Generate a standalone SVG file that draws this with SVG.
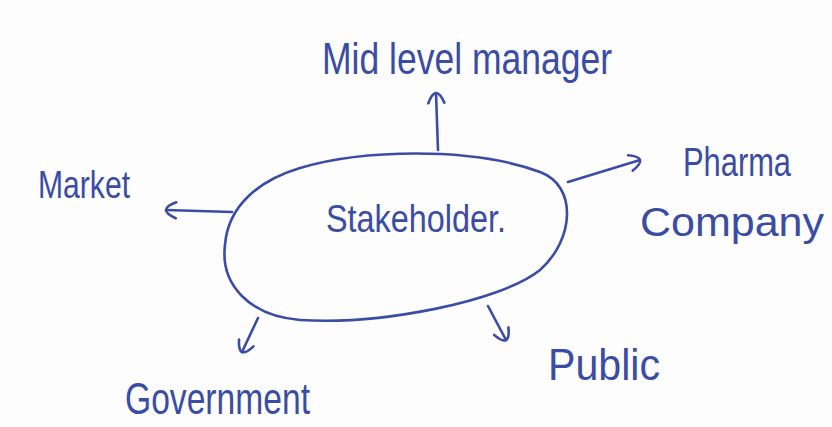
<svg xmlns="http://www.w3.org/2000/svg" width="832" height="427" viewBox="0 0 832 427">
<style>
.lbl{font-family:"Liberation Sans","DejaVu Sans",sans-serif;fill:#3a4ca4;}
.ink{fill:none;stroke:#3a4ca4;stroke-width:2.6;stroke-linecap:round;stroke-linejoin:round;}
</style>
<defs>
<marker id="ah" markerWidth="16" markerHeight="20" refX="12" refY="10" orient="auto" markerUnits="userSpaceOnUse">
<path d="M2,2 Q12,6 12,10 Q12,14 2,18" fill="none" stroke="#3a4ca4" stroke-width="2.6" stroke-linecap="round"/>
</marker>
</defs>
<rect width="832" height="427" fill="#fdfdfd"/>
<g id="stakeholder">
<path class="ink" d="M300,168 C360,150 470,146 540,172 C578,186 574,240 540,270 C500,302 380,325 300,320 C250,316 220,285 225,245 C228,205 260,180 300,168 Z"/>
<text class="lbl" x="326" y="232" font-size="38" textLength="180" lengthAdjust="spacingAndGlyphs">Stakeholder.</text>
</g>
<g id="mid-level-manager">
<text class="lbl" x="322" y="74" font-size="44" textLength="290" lengthAdjust="spacingAndGlyphs">Mid level manager</text>
</g>
<g id="market">
<text class="lbl" x="38" y="198" font-size="38" textLength="92" lengthAdjust="spacingAndGlyphs">Market</text>
</g>
<g id="pharma-company">
<text class="lbl" x="683" y="176" font-size="40" textLength="108" lengthAdjust="spacingAndGlyphs">Pharma</text>
<text class="lbl" x="640" y="236" font-size="40" textLength="184" lengthAdjust="spacingAndGlyphs">Company</text>
</g>
<g id="government">
<text class="lbl" x="125" y="414" font-size="44" textLength="185" lengthAdjust="spacingAndGlyphs">Government</text>
</g>
<g id="public">
<text class="lbl" x="548" y="380" font-size="44" textLength="112" lengthAdjust="spacingAndGlyphs">Public</text>
</g>
<g id="connectors">
<path class="ink" d="M438,150 L436,93" marker-end="url(#ah)"/>
<path class="ink" d="M232,212 L166,210" marker-end="url(#ah)"/>
<path class="ink" d="M568,182 L640,160" marker-end="url(#ah)"/>
<path class="ink" d="M258,318 L242,352" marker-end="url(#ah)"/>
<path class="ink" d="M488,306 L506,340" marker-end="url(#ah)"/>
</g>
</svg>
